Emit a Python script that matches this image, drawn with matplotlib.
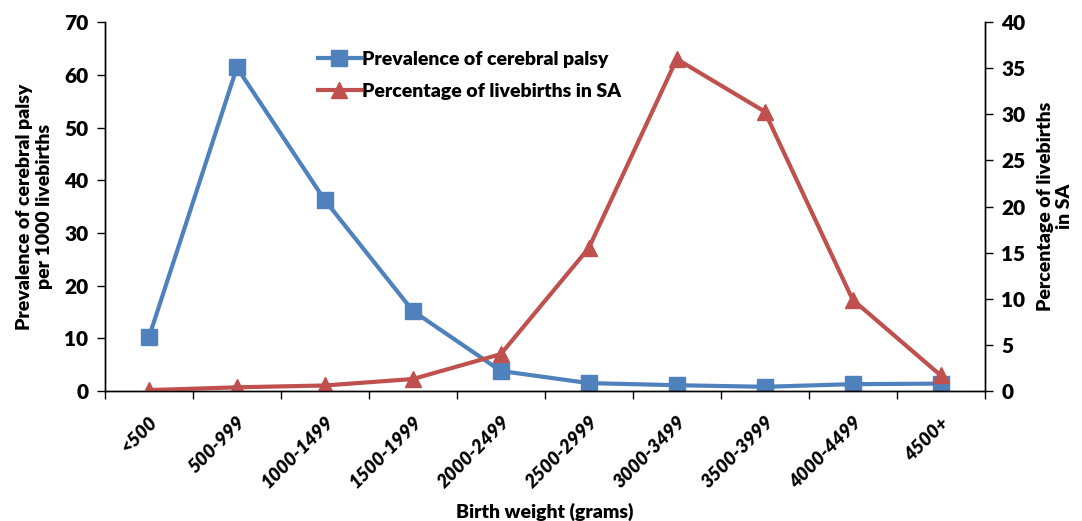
import numpy as np
import matplotlib.pyplot as plt

plt.rcParams['font.family'] = ['Lato', 'DejaVu Sans']

weights = ['<500', '500-999', '1000-1499', '1500-1999', '2000-2499',
           '2500-2999', '3000-3499', '3500-3999', '4000-4499', '4500+']
cp_prev = [10.2, 61.4, 36.2, 15.2, 3.8, 1.5, 1.1, 0.8, 1.3, 1.4]
pct_births = [0.1, 0.4, 0.6, 1.3, 4.0, 15.5, 36.0, 30.3, 9.9, 1.7]

blue = '#4F81BD'
red = '#C0504D'
fw = 'heavy'

fig = plt.figure(figsize=(10.82, 5.21), dpi=100)
ax = fig.add_axes([0.097, 0.2495, 0.813, 0.708])
ax2 = ax.twinx()

x = np.arange(len(weights))
l1, = ax.plot(x, cp_prev, color=blue, lw=3, marker='s', ms=12,
              label='Prevalence of cerebral palsy')
l2, = ax2.plot(x, pct_births, color=red, lw=3, marker='^', ms=12,
               label='Percentage of livebirths in SA')

ax.set_xlim(-0.5, len(weights) - 0.5)
ax.set_ylim(0, 70)
ax2.set_ylim(0, 40)
ax.set_yticks(np.arange(0, 71, 10))
ax2.set_yticks(np.arange(0, 41, 5))

ax.set_xticks(x)
ax.set_xticklabels(weights, rotation=45, ha='right', rotation_mode='anchor',
                   fontsize=13.5, fontweight=fw, style='italic')
ax.set_xticks(np.arange(-0.5, len(weights), 1), minor=True)
ax.tick_params(axis='x', which='major', length=0, pad=16)
ax.tick_params(axis='x', which='minor', length=6, width=1, direction='out')

for a in (ax, ax2):
    a.spines['top'].set_visible(False)
    a.tick_params(axis='y', length=6, width=1, labelsize=15, pad=6)
    for lab in a.get_yticklabels():
        lab.set_fontweight(fw)
for s in ('left', 'right', 'bottom'):
    ax2.spines[s].set_linewidth(1)
    ax.spines[s].set_linewidth(1)

ax.set_xlabel('Birth weight (grams)', fontsize=14, fontweight=fw, labelpad=8)
ax.set_ylabel('Prevalence of cerebral palsy\nper 1000 livebirths',
              fontsize=14, fontweight=fw, labelpad=8)
ax2.set_ylabel('Percentage of livebirths\nin SA', fontsize=14,
               fontweight=fw, labelpad=8)

leg = ax.legend(handles=[l1, l2], loc='upper left',
                bbox_to_anchor=(0.222, 0.97), frameon=False,
                prop={'weight': fw, 'size': 14}, handlelength=2.2,
                handletextpad=0.1, labelspacing=0.8)

fig.savefig('out.png', dpi=100)
